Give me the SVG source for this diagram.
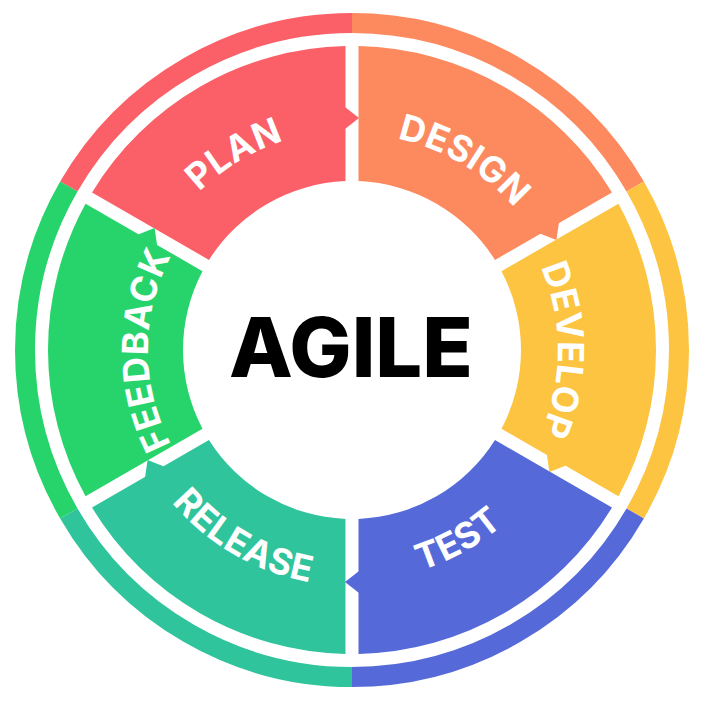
<svg xmlns="http://www.w3.org/2000/svg" xmlns:xlink="http://www.w3.org/1999/xlink" width="716" height="708" viewBox="0 0 716 708">
  <style>
    .lbl { font-family: "Inter", "Liberation Sans", sans-serif; font-weight: 700; font-size: 36px; fill: #ffffff; text-anchor: middle; letter-spacing: 0.5px; }
    .title { font-family: "Inter", "Liberation Sans", sans-serif; font-weight: 800; font-size: 83px; fill: #000000; text-anchor: middle; }
    .ring { fill: none; stroke-width: 20; }
  </style>
  <defs>
    <!-- canonical segment: sector from -150deg to -90deg around the origin, with its arrow -->
    <g id="seg">
      <path d="M -259.96,-157.60 A304,304 0 0 1 -6.50,-303.93 L -6.50,-168.88 A169,169 0 0 0 -143.00,-90.07 Z"/>
      <path d="M -7,-243 L 7,-232 L -7,-221 Z"/>
    </g>
    <path id="ringseg" d="M -283.19,-163.5 A327,327 0 0 1 0,-327"/>
    <path id="p-plan" d="M136.05,391.98 A220,220 0 0 1 490.45,179.03"/>
    <path id="p-design" d="M214.6,183.33 A216,216 0 0 1 564.39,389.36"/>
    <path id="p-develop" d="M422.45,156.42 A206,206 0 0 1 422.45,543.58"/>
    <path id="p-test" d="M201.1,524.9 A231,231 0 0 0 580.0,313.1"/>
    <path id="p-release" d="M119.6,309.0 A236,236 0 0 0 503.7,530.8"/>
    <path id="p-feedback" d="M282.23,541.7 A204,204 0 0 1 282.23,158.3"/>
  </defs>
  <rect width="716" height="708" fill="#ffffff"/>

  <g id="outer-ring">
    <use href="#ringseg" class="ring" stroke="#FB6068" transform="translate(352 350)"/>
    <use href="#ringseg" class="ring" stroke="#FD895E" transform="translate(352 350) rotate(60)"/>
    <use href="#ringseg" class="ring" stroke="#FCC440" transform="translate(352 350) rotate(120)"/>
    <use href="#ringseg" class="ring" stroke="#556AD8" transform="translate(352 350) rotate(180)"/>
    <use href="#ringseg" class="ring" stroke="#2FC49C" transform="translate(352 350) rotate(240)"/>
    <use href="#ringseg" class="ring" stroke="#27D46B" transform="translate(352 350) rotate(300)"/>
  </g>

  <g id="connectors"></g>

  <g id="plan">
    <use href="#seg" fill="#FB6068" transform="translate(352 350)"/>
    <text class="lbl"><textPath href="#p-plan" startOffset="50%">PLAN</textPath></text>
  </g>
  <g id="design">
    <use href="#seg" fill="#FD895E" transform="translate(352 350) rotate(60)"/>
    <text class="lbl"><textPath href="#p-design" startOffset="50%">DESIGN</textPath></text>
  </g>
  <g id="develop">
    <use href="#seg" fill="#FCC440" transform="translate(352 350) rotate(120)"/>
    <text class="lbl"><textPath href="#p-develop" startOffset="50%">DEVELOP</textPath></text>
  </g>
  <g id="test">
    <use href="#seg" fill="#556AD8" transform="translate(352 350) rotate(180)"/>
    <text class="lbl"><textPath href="#p-test" startOffset="50%">TEST</textPath></text>
  </g>
  <g id="release">
    <use href="#seg" fill="#2FC49C" transform="translate(352 350) rotate(240)"/>
    <text class="lbl"><textPath href="#p-release" startOffset="50%">RELEASE</textPath></text>
  </g>
  <g id="feedback">
    <use href="#seg" fill="#27D46B" transform="translate(352 350) rotate(300)"/>
    <text class="lbl"><textPath href="#p-feedback" startOffset="50%">FEEDBACK</textPath></text>
  </g>

  <g id="agile">
    <text class="title" x="351" y="377">AGILE</text>
  </g>
</svg>
